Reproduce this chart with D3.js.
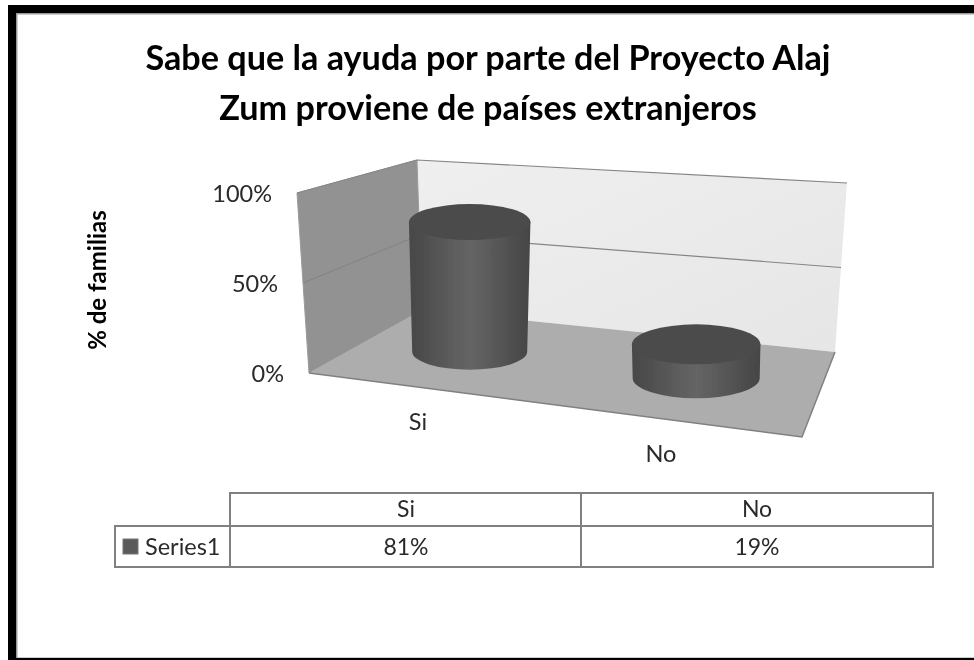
<!DOCTYPE html>
<html>
<head>
<meta charset="utf-8">
<title>Proyecto Alaj Zum</title>
<script src="https://d3js.org/d3.v7.min.js"></script>
<style>
  html, body { margin: 0; padding: 0; background: #fff; }
  svg { display: block; }
  text { font-family: Lato, "Open Sans", sans-serif; fill: #2a2a2a; }
</style>
</head>
<body>
<svg width="974" height="660"></svg>
<script>
var titleLines = ["Sabe que la ayuda por parte del Proyecto Alaj", "Zum proviene de países extranjeros"];
var axisTitle = "% de familias";
var categories = ["Si", "No"];
var seriesName = "Series1";
var seriesValues = [81, 19];
var yTicks = [0, 50, 100];

var svg = d3.select("svg");
var defs = svg.append("defs");

// the reference is a soft scan, so everything gets a slight blur
defs.append("filter").attr("id", "soft")
    .attr("x", 0).attr("y", 0).attr("width", 1).attr("height", 1)
    .attr("filterUnits", "objectBoundingBox")
  .append("feGaussianBlur").attr("stdDeviation", 0.45);

var root = svg.append("g").attr("filter", "url(#soft)");

// box corners of the 3d plot, as seen on the page
var frontLeft = [309, 373], frontRight = [802, 437];
var backLeft = [422, 310], backRight = [835, 352];
var backLeftTop = [417, 160], backRightTop = [847, 183];
var frontLeftTop = [297, 193];

function edge(a, b) {
  var x = d3.scaleLinear().domain([0, 100]).range([a[0], b[0]]);
  var y = d3.scaleLinear().domain([0, 100]).range([a[1], b[1]]);
  return function(v) { return [x(v), y(v)]; };
}
var wallFront = edge(frontLeft, frontLeftTop),
    wallBack = edge(backLeft, backLeftTop),
    wallRight = edge(backRight, backRightTop);

var poly = d3.line();

// page frame
root.append("rect").attr("x", 0).attr("y", 0).attr("width", 974).attr("height", 660).attr("fill", "#fff");
root.append("rect").attr("x", 8).attr("y", 5).attr("width", 966).attr("height", 655).attr("fill", "#000");
root.append("rect").attr("x", 16).attr("y", 13).attr("width", 958).attr("height", 645).attr("fill", "#999");
root.append("rect").attr("x", 17.5).attr("y", 14.5).attr("width", 956.5).attr("height", 643).attr("fill", "#fff");

// title
root.append("g").selectAll("text")
  .data(titleLines)
  .enter().append("text")
    .attr("x", 488)
    .attr("y", function(d, i) { return 70 + i * 50; })
    .attr("text-anchor", "middle")
    .attr("font-size", 34.2)
    .attr("font-weight", "bold")
    .style("fill", "#000")
    .text(function(d) { return d; });

root.append("text")
    .attr("transform", "translate(106,280) rotate(-90)")
    .attr("text-anchor", "middle")
    .attr("font-size", 24)
    .attr("font-weight", "bold")
    .style("fill", "#000")
    .text(axisTitle);

// walls and floor
var wallGrad = defs.append("linearGradient").attr("id", "wall").attr("x1", 0).attr("x2", 1).attr("y1", 0).attr("y2", 1);
wallGrad.append("stop").attr("offset", 0).attr("stop-color", "#efefef");
wallGrad.append("stop").attr("offset", 1).attr("stop-color", "#e6e6e6");

var plot = root.append("g");
plot.append("path")
    .attr("d", poly([backLeft, backLeftTop, backRightTop, backRight]) + "Z")
    .attr("fill", "url(#wall)");
plot.append("path")
    .attr("d", poly([frontLeft, frontLeftTop, backLeftTop, backLeft]) + "Z")
    .attr("fill", "#929292")
    .attr("stroke", "#9c9c9c");
plot.append("path")
    .attr("d", poly([frontLeft, frontRight, backRight, backLeft]) + "Z")
    .attr("fill", "#adadad");
plot.append("path")
    .attr("d", poly([frontLeft, frontRight, backRight]))
    .attr("fill", "none")
    .attr("stroke", "#808080")
    .attr("stroke-width", 1.5);

// gridlines
plot.selectAll(".grid")
  .data(yTicks.slice(1))
  .enter().append("path")
    .attr("class", "grid")
    .attr("d", function(d) { return poly([wallFront(d), wallBack(d), wallRight(d)]); })
    .attr("fill", "none")
    .attr("stroke", "#858585")
    .attr("stroke-width", 1.2);

plot.selectAll(".ylab")
  .data(yTicks)
  .enter().append("text")
    .attr("class", "ylab")
    .attr("x", function(d) { return wallFront(d)[0] - 25; })
    .attr("y", function(d) { return wallFront(d)[1] + 9; })
    .attr("text-anchor", "end")
    .attr("font-size", 23.5)
    .text(function(d) { return d + "%"; });

// cylinders
var bodyGrad = defs.append("linearGradient").attr("id", "body");
bodyGrad.append("stop").attr("offset", 0).attr("stop-color", "#474747");
bodyGrad.append("stop").attr("offset", 0.5).attr("stop-color", "#656565");
bodyGrad.append("stop").attr("offset", 1).attr("stop-color", "#454545");

var depth = d3.scalePoint().domain(categories).range([0.23, 0.73]);
var heightPer100 = d3.scaleOrdinal().domain(categories).range([160, 178]);
var baseRx = d3.scaleOrdinal().domain(categories).range([57.5, 63.5]);
var baseRy = d3.scaleOrdinal().domain(categories).range([18, 20]);

function floorPoint(c) {
  var u = d3.scaleLinear().domain([0, 1]);
  var t = depth(c);
  var fx = u.range([frontLeft[0], frontRight[0]])(t),
      fy = u.range([frontLeft[1], frontRight[1]])(t),
      bx = u.range([backLeft[0], backRight[0]])(t),
      by = u.range([backLeft[1], backRight[1]])(t);
  return [(fx + bx) / 2, (fy + by) / 2 - 2];
}

var bars = plot.selectAll(".bar")
  .data(categories.map(function(c, i) { return { cat: c, value: seriesValues[i] }; }))
  .enter().append("g")
    .attr("class", "bar");

bars.append("path")
    .attr("fill", "url(#body)")
    .attr("d", function(d) {
      var p = floorPoint(d.cat),
          h = heightPer100(d.cat) * d.value / 100,
          rb = baseRx(d.cat),
          rt = rb + d.value * 0.04,
          ry = baseRy(d.cat);
      return "M" + (p[0] - rt) + "," + (p[1] - h) +
             "L" + (p[0] - rb) + "," + p[1] +
             "A" + rb + "," + ry + " 0 0 0 " + (p[0] + rb) + "," + p[1] +
             "L" + (p[0] + rt) + "," + (p[1] - h) + "Z";
    });

bars.append("ellipse")
    .attr("cx", function(d) { return floorPoint(d.cat)[0]; })
    .attr("cy", function(d) { return floorPoint(d.cat)[1] - heightPer100(d.cat) * d.value / 100; })
    .attr("rx", function(d) { return baseRx(d.cat) + d.value * 0.04; })
    .attr("ry", function(d) { return baseRy(d.cat); })
    .attr("fill", "#4b4b4b");

// category labels under the floor
var xLabelX = d3.scaleOrdinal().domain(categories).range([418, 661]);
var xLabelY = d3.scaleOrdinal().domain(categories).range([430, 462]);
plot.selectAll(".xlab")
  .data(categories)
  .enter().append("text")
    .attr("class", "xlab")
    .attr("x", function(d) { return xLabelX(d); })
    .attr("y", function(d) { return xLabelY(d); })
    .attr("text-anchor", "middle")
    .attr("font-size", 23.5)
    .text(function(d) { return d; });

// data table
var tableX = d3.scalePoint().domain(categories).range([230, 581]);
var colW = 352;
var rowTop = 493, rowMid = 526, rowBot = 567, tableL = 115;
var table = root.append("g");

table.append("path")
    .attr("d", "M" + tableX("Si") + "," + rowBot + "V" + rowTop + "H" + (tableX("No") + colW) + "V" + rowBot +
               "H" + tableL + "V" + rowMid + "H" + (tableX("No") + colW) +
               "M" + tableX("No") + "," + rowTop + "V" + rowBot)
    .attr("fill", "none")
    .attr("stroke", "#808080")
    .attr("stroke-width", 2);

table.selectAll(".head")
  .data(categories)
  .enter().append("text")
    .attr("class", "head")
    .attr("x", function(d) { return tableX(d) + colW / 2; })
    .attr("y", 517)
    .attr("text-anchor", "middle")
    .attr("font-size", 23)
    .text(function(d) { return d; });

table.selectAll(".val")
  .data(seriesValues)
  .enter().append("text")
    .attr("class", "val")
    .attr("x", function(d, i) { return tableX(categories[i]) + colW / 2; })
    .attr("y", 555)
    .attr("text-anchor", "middle")
    .attr("font-size", 23)
    .text(function(d) { return d + "%"; });

table.append("rect")
    .attr("x", 123).attr("y", 539).attr("width", 15).attr("height", 15)
    .attr("fill", "#5a5a5a").attr("stroke", "#777");

table.append("text")
    .attr("x", 145).attr("y", 555)
    .attr("font-size", 23.5)
    .text(seriesName);
</script>
</body>
</html>
